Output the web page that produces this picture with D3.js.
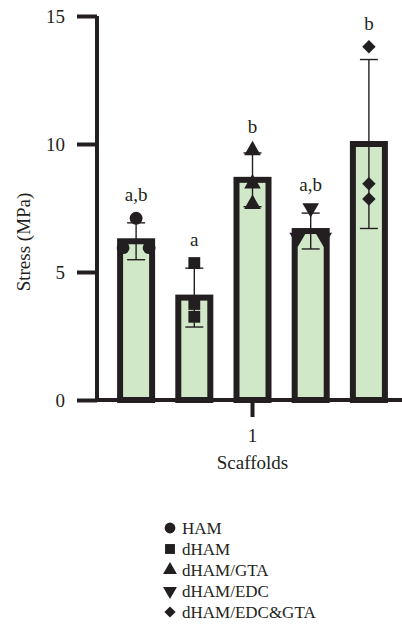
<!DOCTYPE html>
<html>
<head>
<meta charset="utf-8">
<script src="https://cdn.jsdelivr.net/npm/d3@7"></script>
<style>
  body { margin: 0; background: #fff; }
  svg text { font-family: "Liberation Serif", "Times New Roman", "DejaVu Serif", serif; fill: #231f20; }
</style>
</head>
<body>
<svg id="chart" width="402" height="629"></svg>
<script>
// groups, means, SDs and the single replicate values
var groups = ['HAM', 'dHAM', 'dHAM/GTA', 'dHAM/EDC', 'dHAM/EDC&GTA'];
var means = [6.2, 4.0, 8.6, 6.6, 10.0];
var sds = [0.72, 1.15, 1.05, 0.7, 3.3];
var points = [
  [7.1, 5.95, 5.95],
  [5.35, 3.75, 3.25],
  [9.75, 8.45, 7.65],
  [7.5, 6.35, 6.35],
  [13.8, 8.45, 7.85]
];
var sigLabels = ['a,b', 'a', 'b', 'a,b', 'b'];
var yTicks = [0, 5, 10, 15];
var xTickLabel = '1';

var ink = '#231f20';
var svg = d3.select('#chart');

var y = d3.scaleLinear().domain([0, 15]).range([400, 16]);
var x = d3.scaleBand().domain(groups).range([107, 398])
  .paddingInner(0.45).paddingOuter(0.225);

// marker shapes per group
var shapes = [
  { type: d3.symbolCircle, size: 130, rot: 0 },
  { type: d3.symbolSquare, size: 140, rot: 0 },
  { type: d3.symbolTriangle, size: 120, rot: 0 },
  { type: d3.symbolTriangle, size: 120, rot: 180 },
  { type: d3.symbolSquare, size: 90, rot: 45 }
];

// bars
svg.append('g').selectAll('rect')
  .data(means)
  .join('rect')
  .attr('x', function (d, i) { return x(groups[i]); })
  .attr('y', function (d) { return y(d); })
  .attr('width', x.bandwidth())
  .attr('height', function (d) { return y(0) - y(d); })
  .attr('fill', '#d0e8c8')
  .attr('stroke', ink)
  .attr('stroke-width', 6);

// error bars
var eb = svg.append('g').attr('stroke', ink).attr('stroke-width', 1.4);
means.forEach(function (m, i) {
  var cx = x(groups[i]) + x.bandwidth() / 2;
  eb.append('line')
    .attr('x1', cx).attr('x2', cx)
    .attr('y1', y(m - sds[i])).attr('y2', y(m + sds[i]));
  [m - sds[i], m + sds[i]].forEach(function (v) {
    eb.append('line')
      .attr('x1', cx - 9).attr('x2', cx + 9)
      .attr('y1', y(v)).attr('y2', y(v));
  });
});

// replicate points, tied values spread sideways
var pts = svg.append('g').attr('fill', ink);
points.forEach(function (vals, i) {
  var cx = x(groups[i]) + x.bandwidth() / 2;
  var sym = d3.symbol().type(shapes[i].type).size(shapes[i].size);
  vals.forEach(function (v, j) {
    var ties = vals.filter(function (w) { return w === v; });
    var k = vals.slice(0, j).filter(function (w) { return w === v; }).length;
    var dx = ties.length > 1 ? (k - (ties.length - 1) / 2) * 26 : 0;
    pts.append('path')
      .attr('d', sym())
      .attr('transform', 'translate(' + (cx + dx) + ',' + y(v) + ') rotate(' + shapes[i].rot + ')');
  });
});

// significance letters
svg.append('g').selectAll('text')
  .data(sigLabels)
  .join('text')
  .attr('x', function (d, i) { return x(groups[i]) + x.bandwidth() / 2; })
  .attr('y', function (d, i) {
    return y(Math.max(d3.max(points[i]), means[i] + sds[i])) - 17;
  })
  .attr('text-anchor', 'middle')
  .attr('font-size', 19)
  .text(function (d) { return d; });

// y axis
var yAxis = svg.append('g')
  .attr('transform', 'translate(97,0)')
  .call(d3.axisLeft(y).tickValues(yTicks).tickSize(20).tickPadding(12));
yAxis.select('.domain').attr('d', 'M0,' + y(15) + 'V' + y(0))
  .attr('stroke', ink).attr('stroke-width', 4);
yAxis.selectAll('.tick line').attr('stroke', ink).attr('stroke-width', 4);
yAxis.selectAll('.tick text')
  .attr('font-size', 19)
  .attr('font-family', '"Liberation Serif", serif')
  .attr('fill', ink);

// x axis
svg.append('line')
  .attr('x1', 95).attr('x2', 402)
  .attr('y1', y(0)).attr('y2', y(0))
  .attr('stroke', ink).attr('stroke-width', 4);
var midX = (x.range()[0] + x.range()[1]) / 2;
svg.append('line')
  .attr('x1', midX).attr('x2', midX)
  .attr('y1', y(0)).attr('y2', y(0) + 17)
  .attr('stroke', ink).attr('stroke-width', 4);
svg.append('text')
  .attr('x', midX).attr('y', 442)
  .attr('text-anchor', 'middle').attr('font-size', 19)
  .text(xTickLabel);
svg.append('text')
  .attr('x', midX).attr('y', 469)
  .attr('text-anchor', 'middle').attr('font-size', 19)
  .text('Scaffolds');

svg.append('text')
  .attr('transform', 'translate(30,242) rotate(-90)')
  .attr('text-anchor', 'middle').attr('font-size', 19)
  .text('Stress (MPa)');

// legend
var legend = svg.append('g').attr('transform', 'translate(170,528)');
groups.forEach(function (g, i) {
  var row = legend.append('g').attr('transform', 'translate(0,' + i * 21 + ')');
  var sz = shapes[i].size * 0.7;
  row.append('path')
    .attr('d', d3.symbol().type(shapes[i].type).size(sz)())
    .attr('transform', 'rotate(' + shapes[i].rot + ')')
    .attr('fill', ink);
  row.append('text')
    .attr('x', 12).attr('dy', '0.35em')
    .attr('font-size', 17)
    .text(g);
});
</script>
</body>
</html>
